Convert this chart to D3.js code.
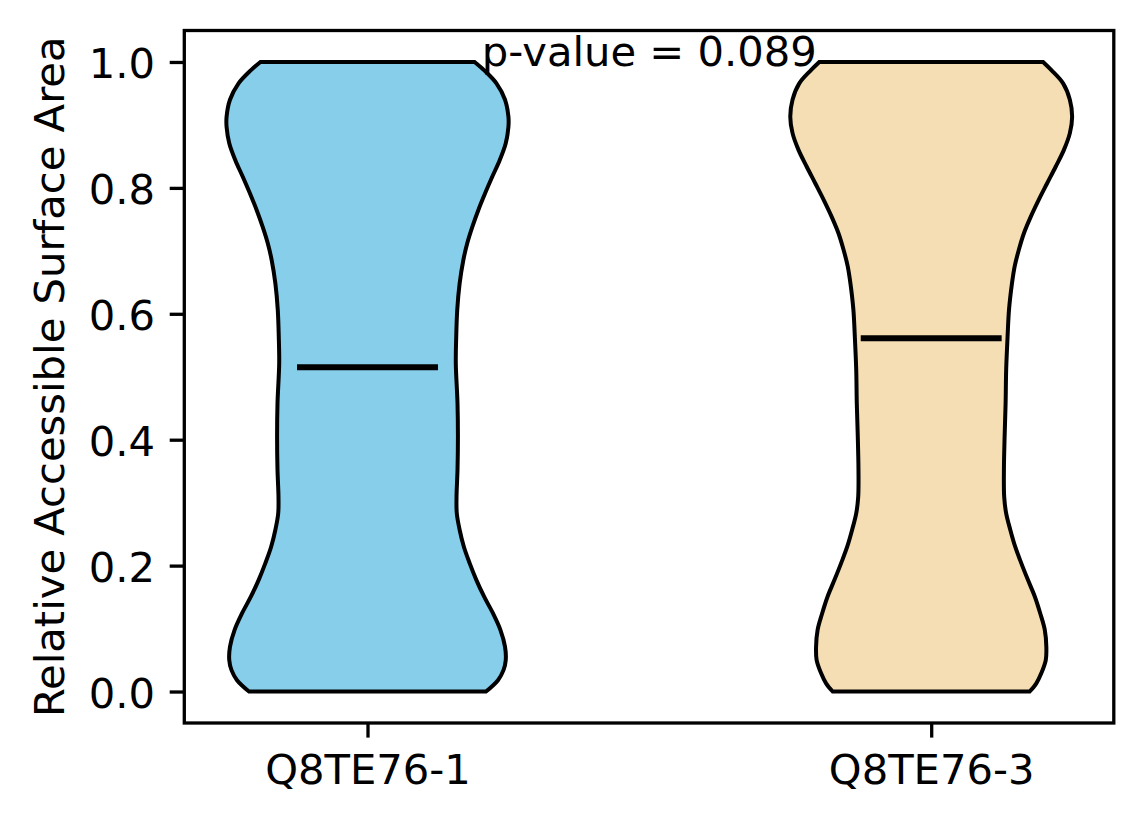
<!DOCTYPE html>
<html>
<head>
<meta charset="utf-8">
<script src="https://cdn.jsdelivr.net/npm/d3@7"></script>
<style>
  html, body { margin: 0; padding: 0; background: #ffffff; }
  svg { display: block; }
  text { font-family: "DejaVu Sans", sans-serif; fill: #000; }
</style>
</head>
<body>
<script>
// ---- data ----
const categories = ["Q8TE76-1", "Q8TE76-3"];
const colors = ["#87CEEB", "#F5DEB3"];
const means = [0.515, 0.561];
const pValueLabel = "p-value = 0.089";
const yTicks = [0.0, 0.2, 0.4, 0.6, 0.8, 1.0];

// estimated kernel density (relative) along the value axis
const kdeValues1 = [0.0, 0.018, 0.034, 0.050, 0.071, 0.098, 0.124, 0.151, 0.177, 0.204, 0.230, 0.257, 0.283, 0.309, 0.352, 0.405, 0.458, 0.521, 0.564, 0.606, 0.648, 0.685, 0.712, 0.738, 0.765, 0.791, 0.818, 0.844, 0.871, 0.897, 0.913, 0.940, 0.966, 0.987, 1.0];
const kdeDensity1 = [0.840, 0.925, 0.964, 0.980, 0.975, 0.942, 0.890, 0.826, 0.772, 0.724, 0.683, 0.653, 0.633, 0.631, 0.638, 0.641, 0.638, 0.626, 0.629, 0.636, 0.653, 0.679, 0.707, 0.743, 0.786, 0.833, 0.885, 0.937, 0.980, 0.999, 0.999, 0.975, 0.914, 0.826, 0.759];

const kdeValues2 = [0.0, 0.013, 0.029, 0.050, 0.071, 0.098, 0.124, 0.151, 0.177, 0.204, 0.230, 0.257, 0.283, 0.309, 0.352, 0.405, 0.458, 0.511, 0.564, 0.606, 0.648, 0.675, 0.701, 0.728, 0.754, 0.781, 0.807, 0.834, 0.860, 0.887, 0.913, 0.940, 0.966, 0.987, 1.0];
const kdeDensity2 = [0.699, 0.746, 0.781, 0.813, 0.817, 0.806, 0.774, 0.735, 0.687, 0.639, 0.596, 0.561, 0.532, 0.518, 0.516, 0.521, 0.528, 0.532, 0.542, 0.552, 0.573, 0.592, 0.621, 0.658, 0.706, 0.763, 0.822, 0.884, 0.941, 0.984, 1.0, 0.984, 0.936, 0.853, 0.794];

// ---- layout ----
const W = 1144, H = 824;
const FS = 41.7;
const plot = { left: 184.3, right: 1113.8, top: 30.5, bottom: 723 };

const svg = d3.select("body").append("svg").attr("width", W).attr("height", H);

const x = d3.scaleLinear().domain([0.675, 2.325]).range([plot.left, plot.right + 0.6]);
const y = d3.scaleLinear().domain([-0.05, 1.05]).range([plot.bottom, plot.top]);

const violins = [
  { pos: 1, vals: kdeValues1, dens: kdeDensity1, color: colors[0], mean: means[0] },
  { pos: 2, vals: kdeValues2, dens: kdeDensity2, color: colors[1], mean: means[1] }
];

const gPlot = svg.append("g");

violins.forEach(v => {
  const maxD = d3.max(v.dens);
  const pts = v.vals.map((val, i) => ({ v: val, hw: 0.25 * v.dens[i] / maxD }));
  const area = d3.area()
    .y(d => y(d.v))
    .x0(d => x(v.pos - d.hw))
    .x1(d => x(v.pos + d.hw))
    .curve(d3.curveCatmullRom.alpha(0.5));
  gPlot.append("path")
    .datum(pts)
    .attr("d", area)
    .attr("fill", v.color)
    .attr("stroke", "#000")
    .attr("stroke-width", 4)
    .attr("stroke-linejoin", "miter");
});

// mean lines
violins.forEach(v => {
  gPlot.append("line")
    .attr("x1", x(v.pos - 0.125)).attr("x2", x(v.pos + 0.125))
    .attr("y1", y(v.mean)).attr("y2", y(v.mean))
    .attr("stroke", "#000").attr("stroke-width", 6);
});

// p-value text
svg.append("text")
  .attr("x", x(1.5))
  .attr("y", y(0.993))
  .attr("text-anchor", "middle")
  .attr("font-size", FS)
  .text(pValueLabel);

// frame
svg.append("rect")
  .attr("x", plot.left).attr("y", plot.top)
  .attr("width", plot.right - plot.left).attr("height", plot.bottom - plot.top)
  .attr("fill", "none").attr("stroke", "#000").attr("stroke-width", 3.3);

// y axis
const yAxis = d3.axisLeft(y).tickValues(yTicks).tickFormat(d3.format(".1f"))
  .tickSize(14.6).tickPadding(14.6);
const gy = svg.append("g").attr("transform", `translate(${plot.left},0)`).call(yAxis);
gy.select(".domain").remove();
gy.selectAll(".tick line").attr("stroke", "#000").attr("stroke-width", 3.3);
gy.selectAll(".tick text")
  .attr("font-size", FS).attr("font-family", "DejaVu Sans")
  .attr("dy", "0.38em").attr("fill", "#000");

// x axis
const xAxis = d3.axisBottom(x).tickValues([1, 2]).tickFormat((d, i) => categories[i])
  .tickSize(14.6).tickPadding(14.6);
const gx = svg.append("g").attr("transform", `translate(0,${plot.bottom})`).call(xAxis);
gx.select(".domain").remove();
gx.selectAll(".tick line").attr("stroke", "#000").attr("stroke-width", 3.3);
gx.selectAll(".tick text")
  .attr("font-size", FS).attr("font-family", "DejaVu Sans")
  .attr("dy", "0.76em").attr("fill", "#000");

// y label
svg.append("text")
  .attr("transform", `translate(64,${(plot.top + plot.bottom) / 2}) rotate(-90)`)
  .attr("text-anchor", "middle")
  .attr("font-size", FS)
  .text("Relative Accessible Surface Area");
</script>
</body>
</html>
